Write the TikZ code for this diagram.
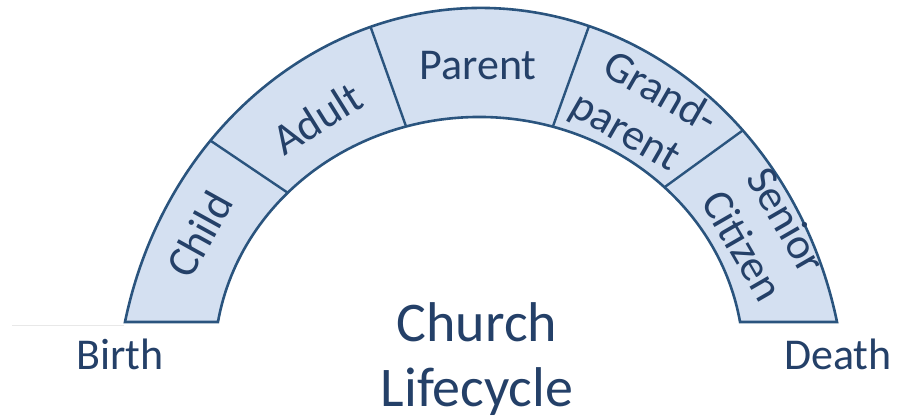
\documentclass[tikz,border=0pt]{standalone}
\usepackage{fontspec}
\setmainfont{Carlito}
\definecolor{bandfill}{RGB}{212,224,241}
\definecolor{bandline}{RGB}{42,84,126}
\definecolor{txt}{RGB}{36,64,104}
\begin{document}
\begin{tikzpicture}[x=1pt,y=1pt,
  band/.style={fill=bandfill,draw=bandline,line width=2.6pt,line join=miter},
  divider/.style={draw=bandline,line width=2.4pt},
  seglabel/.style={text=txt,font=\fontsize{44}{51}\selectfont,inner sep=0pt,align=center},
  biglabel/.style={text=txt,font=\fontsize{56}{65}\selectfont,inner sep=0pt,align=center},
  endlabel/.style={text=txt,font=\fontsize{44}{51}\selectfont,inner sep=0pt}]
\useasboundingbox (0,0) rectangle (897,420);
% faint base line at left
\draw[gray!18,line width=1pt] (12,94) -- (124,94);
% band
\path[band] ([shift={(481,8)}]167.128:365.2 and 404)
  arc[start angle=167.128,end angle=12.872,x radius=365.2,y radius=404]
  -- ([shift={(479,58)}]9.396:264.6 and 245)
  arc[start angle=9.396,end angle=170.604,x radius=264.6,y radius=245]
  -- cycle;
% divider points
\coordinate (o1) at ([shift={(481,8)}]137.8:365.2 and 404);
\coordinate (i1) at ([shift={(479,58)}]136.3:264.6 and 245);
\coordinate (o2) at ([shift={(481,8)}]107.6:365.2 and 404);
\coordinate (i2) at ([shift={(479,58)}]106.0:264.6 and 245);
\coordinate (o3) at ([shift={(481,8)}]72.8:365.2 and 404);
\coordinate (i3) at ([shift={(479,58)}]73.8:264.6 and 245);
\coordinate (o4) at ([shift={(481,8)}]44.2:365.2 and 404);
\coordinate (i4) at ([shift={(479,58)}]45.5:264.6 and 245);
\draw[divider] (o1) -- (i1);
\draw[divider] (o2) -- (i2);
\draw[divider] (o3) -- (i3);
\draw[divider] (o4) -- (i4);
% segment labels
\node[seglabel,anchor=base,rotate=61] (child) at (212.5,178.5) {Child};
\node[seglabel,anchor=base,rotate=32] (adult) at (325,289) {Adult};
\node[seglabel,anchor=base] (parent) at (478,340) {Parent};
\node[seglabel,rotate=-30] (grand) at (647,304) {Grand-\\parent\hspace*{22pt}};
\node[seglabel,rotate=-60] (senior) at (765,187) {Senior\\Citizen};
% centre and ends
\node[biglabel] (title) at (477,61) {Church\\Lifecycle};
\node[endlabel,anchor=base] (birth) at (120,50) {Birth};
\node[endlabel,anchor=base] (death) at (838,50) {Death};
\end{tikzpicture}
\end{document}
